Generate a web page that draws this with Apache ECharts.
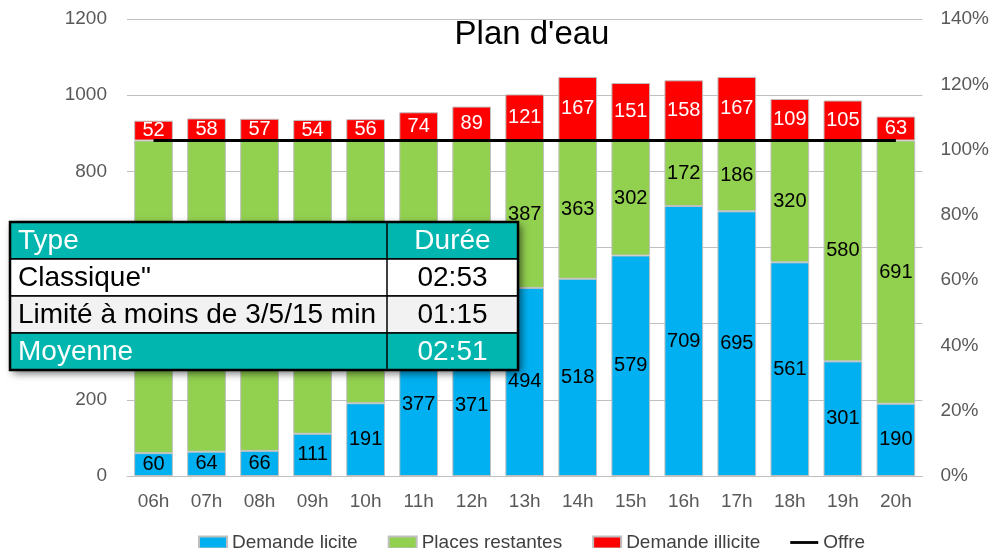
<!DOCTYPE html>
<html>
  <head>
    <meta charset="utf-8">
    <title>Plan d'eau</title>
    <style>
      body { margin: 0; background: #fff; }
    </style>
  </head>
  <body>
    <div id="main" style="width: 992px;height:548px;"></div>

  <script src="https://cdn.jsdelivr.net/npm/echarts@6/dist/echarts.min.js" charset="utf-8"></script>
  <script type="text/javascript">
  var heures = ['06h','07h','08h','09h','10h','11h','12h','13h','14h','15h','16h','17h','18h','19h','20h'];
  var demandeLicite = [60, 64, 66, 111, 191, 377, 371, 494, 518, 579, 709, 695, 561, 301, 190];
  var placesRestantes = [821, 817, 815, 770, 690, 504, 510, 387, 363, 302, 172, 186, 320, 580, 691];
  var demandeIllicite = [52, 58, 57, 54, 56, 74, 89, 121, 167, 151, 158, 167, 109, 105, 63];
  var offre = [881, 881, 881, 881, 881, 881, 881, 881, 881, 881, 881, 881, 881, 881, 881];

  var tableRows = [
    ['Type', 'Durée'],
    ['Classique"', '02:53'],
    ['Limité à moins de 3/5/15 min', '01:15'],
    ['Moyenne', '02:51']
  ];

  var police = 'Liberation Sans, Arial, sans-serif';
  var teal = '#00B6AE';

  var myChart = echarts.init(document.getElementById('main'));

  // tableau superposé (graphic), au-dessus des barres
  var tx = 10, ty = 222, tw = 508, rh = 37, col = 387;
  var rowFill = [teal, '#ffffff', '#f2f2f2', teal];
  var rowText = ['#ffffff', '#000000', '#000000', '#ffffff'];
  var tableEls = [];
  tableEls.push({
    type: 'rect', z: 100,
    shape: { x: tx, y: ty, width: tw, height: rh * 4 },
    style: { fill: '#fff', shadowBlur: 8, shadowOffsetX: 3, shadowOffsetY: 3, shadowColor: 'rgba(0,0,0,0.6)' }
  });
  tableRows.forEach(function (r, i) {
    tableEls.push({
      type: 'rect', z: 101,
      shape: { x: tx, y: ty + i * rh, width: tw, height: rh },
      style: { fill: rowFill[i], stroke: '#000', lineWidth: 1.5 }
    });
    tableEls.push({
      type: 'text', z: 102, x: tx + 8, y: ty + i * rh + rh / 2 + 1,
      style: { text: r[0], fill: rowText[i], font: '28px ' + police, verticalAlign: 'middle' }
    });
    tableEls.push({
      type: 'text', z: 102, x: (col + tx + tw) / 2, y: ty + i * rh + rh / 2 + 1,
      style: { text: r[1], fill: rowText[i], font: '28px ' + police, align: 'center', verticalAlign: 'middle' }
    });
  });
  tableEls.push({
    type: 'line', z: 103,
    shape: { x1: col, y1: ty, x2: col, y2: ty + rh * 4 },
    style: { stroke: '#000', lineWidth: 1.5 }
  });
  tableEls.push({
    type: 'rect', z: 103,
    shape: { x: tx, y: ty, width: tw, height: rh * 4 },
    style: { fill: 'none', stroke: '#000', lineWidth: 2.5 }
  });

  var barLabel = function (color) {
    return { show: true, position: 'inside', color: color, fontSize: 20, fontFamily: police };
  };

  var option = {
    backgroundColor: '#fff',
    animation: false,
    title: {
      text: "Plan d'eau",
      left: 527,
      textAlign: 'center',
      top: 13,
      textStyle: { fontSize: 33, fontWeight: 'normal', color: '#000', fontFamily: police }
    },
    legend: {
      top: 528,
      left: 193,
      itemWidth: 28,
      itemHeight: 12,
      itemGap: 30,
      textStyle: { fontSize: 19, color: '#404040', fontFamily: police },
      data: [
        { name: 'Demande licite', icon: 'rect' },
        { name: 'Places restantes', icon: 'rect' },
        { name: 'Demande illicite', icon: 'rect' },
        { name: 'Offre', icon: 'path://M0,0 L30,0 L30,3 L0,3 Z' }
      ]
    },
    grid: { left: 127, right: 62, top: 19, bottom: 72 },
    xAxis: {
      type: 'category',
      data: heures,
      axisTick: { show: false },
      axisLine: { lineStyle: { color: '#bfbfbf' } },
      axisLabel: { fontSize: 19, color: '#595959', fontFamily: police, margin: 16 }
    },
    yAxis: [
      {
        type: 'value', min: 0, max: 1200, interval: 200,
        axisLabel: { fontSize: 19, color: '#595959', fontFamily: police, margin: 20, formatter: function (v) { return String(v); } },
        splitLine: { lineStyle: { color: '#bfbfbf' } }
      },
      {
        type: 'value', min: 0, max: 140, interval: 20,
        axisLabel: { fontSize: 19, color: '#595959', fontFamily: police, formatter: '{value}%', margin: 18 },
        splitLine: { show: false }
      }
    ],
    series: [
      {
        name: 'Demande licite', type: 'bar', stack: 'a', barWidth: '73%',
        data: demandeLicite,
        itemStyle: { color: '#00B0F0', borderColor: '#bfbfbf', borderWidth: 1 },
        label: barLabel('#000')
      },
      {
        name: 'Places restantes', type: 'bar', stack: 'a',
        data: placesRestantes,
        itemStyle: { color: '#92D050', borderColor: '#bfbfbf', borderWidth: 1 },
        label: barLabel('#000')
      },
      {
        name: 'Demande illicite', type: 'bar', stack: 'a',
        data: demandeIllicite,
        itemStyle: { color: '#FF0000', borderColor: '#bfbfbf', borderWidth: 1 },
        label: barLabel('#fff')
      },
      {
        name: 'Offre', type: 'line',
        data: offre,
        symbol: 'none',
        lineStyle: { color: '#000', width: 3 },
        itemStyle: { color: '#000' }
      }
    ],
    graphic: tableEls
  };
  myChart.setOption(option);
  </script>
  </body>
</html>
